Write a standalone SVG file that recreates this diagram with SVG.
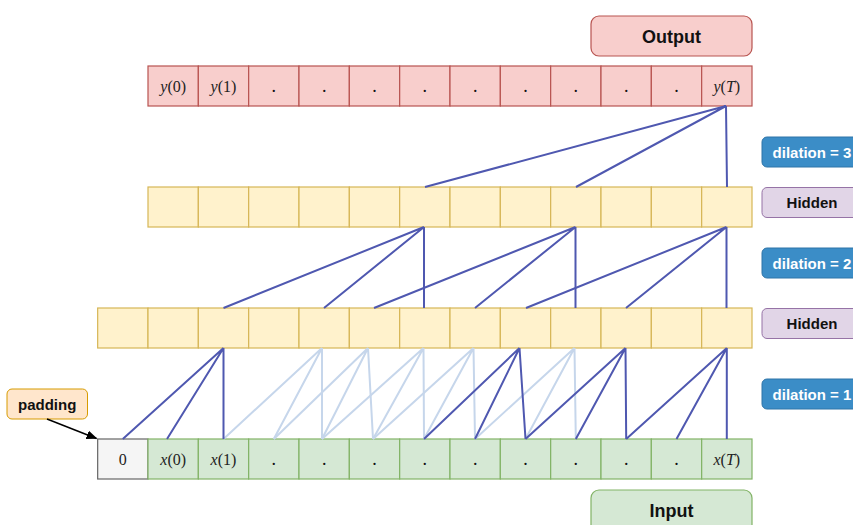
<svg xmlns="http://www.w3.org/2000/svg" width="853" height="525" viewBox="0 0 853 525">
  <style>
    .cell-out { fill: #f8cecc; stroke: #b85450; stroke-width: 1.2; }
    .cell-hid { fill: #fff2cc; stroke: #d6b656; stroke-width: 1.2; }
    .cell-in  { fill: #d5e8d4; stroke: #82b366; stroke-width: 1.2; }
    .cell-pad { fill: #f5f5f5; stroke: #666666; stroke-width: 1.2; }
    .math { font-family: "Liberation Serif", "DejaVu Serif", serif; font-size: 16px; fill: #222; text-anchor: middle; }
    .math .v { font-style: italic; }
    .dot { font-family: "Liberation Serif", serif; font-size: 18px; fill: #111; text-anchor: middle; }
    .lbl { font-family: "Liberation Sans", Arial, sans-serif; font-weight: bold; text-anchor: middle; }
    .dark { stroke: #4f58b0; stroke-width: 2; fill: none; }
    .light { stroke: #c6d6eb; stroke-width: 2; fill: none; }
    .tag-blue { fill: #3b8dc7; stroke: #2f74a8; stroke-width: 1; }
    .tag-purple { fill: #e1d5e7; stroke: #9673a6; stroke-width: 1; }
  </style>
  <defs>
    <marker id="arrow" markerWidth="11" markerHeight="9" refX="10" refY="4.5" orient="auto" markerUnits="userSpaceOnUse">
      <path d="M0,0 L11,4.5 L0,9 Z" fill="#000"/>
    </marker>
  </defs>

  <!-- Output title -->
  <g id="output-title">
    <rect x="591" y="16" width="161" height="40" rx="8" fill="#f8cecc" stroke="#b85450" stroke-width="1.2"/>
    <text class="lbl" x="671.5" y="42.5" font-size="18" fill="#111">Output</text>
  </g>

  <!-- Output row -->
  <g id="output-row">
    <rect class="cell-out" x="148" y="66" width="50.33" height="40"/>
    <rect class="cell-out" x="198.33" y="66" width="50.33" height="40"/>
    <rect class="cell-out" x="248.67" y="66" width="50.33" height="40"/>
    <rect class="cell-out" x="299" y="66" width="50.33" height="40"/>
    <rect class="cell-out" x="349.33" y="66" width="50.33" height="40"/>
    <rect class="cell-out" x="399.67" y="66" width="50.33" height="40"/>
    <rect class="cell-out" x="450" y="66" width="50.33" height="40"/>
    <rect class="cell-out" x="500.33" y="66" width="50.33" height="40"/>
    <rect class="cell-out" x="550.67" y="66" width="50.33" height="40"/>
    <rect class="cell-out" x="601" y="66" width="50.33" height="40"/>
    <rect class="cell-out" x="651.33" y="66" width="50.33" height="40"/>
    <rect class="cell-out" x="701.67" y="66" width="50.33" height="40"/>
    <text class="math" x="173.2" y="91.5"><tspan class="v">y</tspan>(0)</text>
    <text class="math" x="223.5" y="91.5"><tspan class="v">y</tspan>(1)</text>
    <text class="dot" x="273.8" y="92">.</text>
    <text class="dot" x="324.2" y="92">.</text>
    <text class="dot" x="374.5" y="92">.</text>
    <text class="dot" x="424.8" y="92">.</text>
    <text class="dot" x="475.2" y="92">.</text>
    <text class="dot" x="525.5" y="92">.</text>
    <text class="dot" x="575.8" y="92">.</text>
    <text class="dot" x="626.2" y="92">.</text>
    <text class="dot" x="676.5" y="92">.</text>
    <text class="math" x="726.8" y="91.5"><tspan class="v">y</tspan>(<tspan class="v">T</tspan>)</text>
  </g>

  <!-- Upper hidden row -->
  <g id="hidden-upper">
    <rect class="cell-hid" x="148" y="187" width="50.33" height="40"/>
    <rect class="cell-hid" x="198.33" y="187" width="50.33" height="40"/>
    <rect class="cell-hid" x="248.67" y="187" width="50.33" height="40"/>
    <rect class="cell-hid" x="299" y="187" width="50.33" height="40"/>
    <rect class="cell-hid" x="349.33" y="187" width="50.33" height="40"/>
    <rect class="cell-hid" x="399.67" y="187" width="50.33" height="40"/>
    <rect class="cell-hid" x="450" y="187" width="50.33" height="40"/>
    <rect class="cell-hid" x="500.33" y="187" width="50.33" height="40"/>
    <rect class="cell-hid" x="550.67" y="187" width="50.33" height="40"/>
    <rect class="cell-hid" x="601" y="187" width="50.33" height="40"/>
    <rect class="cell-hid" x="651.33" y="187" width="50.33" height="40"/>
    <rect class="cell-hid" x="701.67" y="187" width="50.33" height="40"/>
  </g>

  <!-- Lower hidden row -->
  <g id="hidden-lower">
    <rect class="cell-hid" x="97.67" y="308" width="50.33" height="40"/>
    <rect class="cell-hid" x="148" y="308" width="50.33" height="40"/>
    <rect class="cell-hid" x="198.33" y="308" width="50.33" height="40"/>
    <rect class="cell-hid" x="248.67" y="308" width="50.33" height="40"/>
    <rect class="cell-hid" x="299" y="308" width="50.33" height="40"/>
    <rect class="cell-hid" x="349.33" y="308" width="50.33" height="40"/>
    <rect class="cell-hid" x="399.67" y="308" width="50.33" height="40"/>
    <rect class="cell-hid" x="450" y="308" width="50.33" height="40"/>
    <rect class="cell-hid" x="500.33" y="308" width="50.33" height="40"/>
    <rect class="cell-hid" x="550.67" y="308" width="50.33" height="40"/>
    <rect class="cell-hid" x="601" y="308" width="50.33" height="40"/>
    <rect class="cell-hid" x="651.33" y="308" width="50.33" height="40"/>
    <rect class="cell-hid" x="701.67" y="308" width="50.33" height="40"/>
  </g>

  <!-- Input row -->
  <g id="input-row">
    <rect class="cell-pad" x="97.67" y="439" width="50.33" height="40"/>
    <rect class="cell-in" x="148" y="439" width="50.33" height="40"/>
    <rect class="cell-in" x="198.33" y="439" width="50.33" height="40"/>
    <rect class="cell-in" x="248.67" y="439" width="50.33" height="40"/>
    <rect class="cell-in" x="299" y="439" width="50.33" height="40"/>
    <rect class="cell-in" x="349.33" y="439" width="50.33" height="40"/>
    <rect class="cell-in" x="399.67" y="439" width="50.33" height="40"/>
    <rect class="cell-in" x="450" y="439" width="50.33" height="40"/>
    <rect class="cell-in" x="500.33" y="439" width="50.33" height="40"/>
    <rect class="cell-in" x="550.67" y="439" width="50.33" height="40"/>
    <rect class="cell-in" x="601" y="439" width="50.33" height="40"/>
    <rect class="cell-in" x="651.33" y="439" width="50.33" height="40"/>
    <rect class="cell-in" x="701.67" y="439" width="50.33" height="40"/>
    <text class="math" x="122.8" y="464.5" fill="#444">0</text>
    <text class="math" x="173.2" y="464.5"><tspan class="v">x</tspan>(0)</text>
    <text class="math" x="223.5" y="464.5"><tspan class="v">x</tspan>(1)</text>
    <text class="dot" x="273.8" y="465">.</text>
    <text class="dot" x="324.2" y="465">.</text>
    <text class="dot" x="374.5" y="465">.</text>
    <text class="dot" x="424.8" y="465">.</text>
    <text class="dot" x="475.2" y="465">.</text>
    <text class="dot" x="525.5" y="465">.</text>
    <text class="dot" x="575.8" y="465">.</text>
    <text class="dot" x="626.2" y="465">.</text>
    <text class="dot" x="676.5" y="465">.</text>
    <text class="math" x="726.8" y="464.5"><tspan class="v">x</tspan>(<tspan class="v">T</tspan>)</text>
  </g>

  <!-- Input title -->
  <g id="input-title">
    <rect x="591" y="490" width="161" height="45" rx="8" fill="#d5e8d4" stroke="#82b366" stroke-width="1.2"/>
    <text class="lbl" x="671.5" y="516.5" font-size="18" fill="#111">Input</text>
  </g>

  <!-- Layer tags on the right -->
  <g id="tag-dilation-3">
    <rect class="tag-blue" x="762" y="137" width="100" height="30" rx="5"/>
    <text class="lbl" x="812" y="157.5" font-size="15" fill="#fff">dilation = 3</text>
  </g>
  <g id="tag-hidden-upper">
    <rect class="tag-purple" x="762" y="187.5" width="100" height="30" rx="5"/>
    <text class="lbl" x="812" y="208" font-size="15" fill="#111">Hidden</text>
  </g>
  <g id="tag-dilation-2">
    <rect class="tag-blue" x="762" y="248" width="100" height="30" rx="5"/>
    <text class="lbl" x="812" y="268.5" font-size="15" fill="#fff">dilation = 2</text>
  </g>
  <g id="tag-hidden-lower">
    <rect class="tag-purple" x="762" y="308.5" width="100" height="30" rx="5"/>
    <text class="lbl" x="812" y="329" font-size="15" fill="#111">Hidden</text>
  </g>
  <g id="tag-dilation-1">
    <rect class="tag-blue" x="762" y="379" width="100" height="30" rx="5"/>
    <text class="lbl" x="812" y="399.5" font-size="15" fill="#fff">dilation = 1</text>
  </g>

  <!-- Padding note -->
  <g id="padding-note">
    <rect x="7" y="389" width="80.5" height="30" rx="5" fill="#ffe6cc" stroke="#d79b00" stroke-width="1"/>
    <text class="lbl" x="47.2" y="409.5" font-size="15" fill="#111">padding</text>
  </g>

  <!-- Connectors -->
  <g id="connectors">
    <!-- padding arrow -->
    <line x1="47" y1="419" x2="96.5" y2="438.5" stroke="#000" stroke-width="1.5" marker-end="url(#arrow)"/>

    <!-- dilation 1, faded paths -->
    <path class="light" d="M322,348 L223.5,439 M322,348 L273.8,439 M322,348 L322,439"/>
    <path class="light" d="M368,348 L273.8,439 M368,348 L322,439 M368,348 L373,439"/>
    <path class="light" d="M423.5,348 L322,439 M423.5,348 L373,439 M423.5,348 L424,439"/>
    <path class="light" d="M473.5,348 L373,439 M473.5,348 L424,439 M473.5,348 L475,439"/>
    <path class="light" d="M574.5,348 L475,439 M574.5,348 L525.5,439 M574.5,348 L575.8,439"/>

    <!-- dilation 1, highlighted paths -->
    <path class="dark" d="M223.5,348 L122.8,439 M223.5,348 L167,439 M223.5,348 L223.5,439"/>
    <path class="dark" d="M519.5,348 L424,439 M519.5,348 L475,439 M519.5,348 L525.5,439"/>
    <path class="dark" d="M625.5,348 L525.5,439 M625.5,348 L575.8,439 M625.5,348 L626.2,439"/>
    <path class="dark" d="M726.8,348 L626.2,439 M726.8,348 L676.5,439 M726.8,348 L726.8,439"/>

    <!-- dilation 2 -->
    <path class="dark" d="M424,227 L223.5,308 M424,227 L324,308 M424,227 L424,308"/>
    <path class="dark" d="M575.5,227 L374,308 M575.5,227 L475,308 M575.5,227 L575.5,308"/>
    <path class="dark" d="M726.5,227 L526,308 M726.5,227 L626,308 M726.5,227 L726.5,308"/>

    <!-- dilation 3 -->
    <path class="dark" d="M726,106 L425,187 M726,106 L576,187 M726,106 L727,187"/>
  </g>
</svg>
